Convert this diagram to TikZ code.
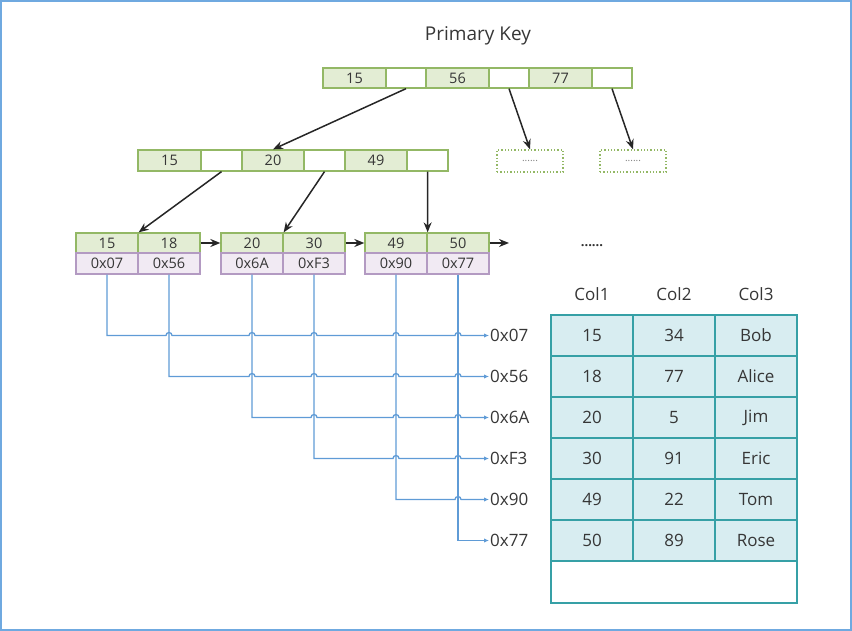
\documentclass[tikz,border=0pt]{standalone}
\usepackage{fontspec}
\setmainfont{Open Sans}
\usetikzlibrary{arrows.meta,calc}
\definecolor{gbord}{HTML}{93B865}
\definecolor{gfill}{HTML}{E3EDD4}
\definecolor{pbord}{HTML}{B39AC2}
\definecolor{pfill}{HTML}{F1EAF3}
\definecolor{txt}{HTML}{363636}
\definecolor{bl}{HTML}{5F9BD6}
\definecolor{tbord}{HTML}{36A0A6}
\definecolor{tfill}{HTML}{D8EDF1}
\definecolor{frm}{HTML}{6FA9E0}
\newcommand\hop[2]{-- ($(#1.south |- #2.west)+(-3,0)$) arc[start angle=180,end angle=360,radius=3]}
\begin{document}
\begin{tikzpicture}[x=1pt,y=-1pt,
  kc/.style={draw=gbord, fill=gfill, line width=1.3pt, inner sep=0pt, minimum height=20pt, text=txt, font=\fontsize{14.5}{14.5}\selectfont},
  pc/.style={kc, fill=white},
  lc/.style={kc, draw=pbord, fill=pfill, minimum height=21pt},
  dc/.style={draw=gbord, dotted, line width=1.3pt, inner sep=0pt, minimum width=66pt, minimum height=22pt, text=gray, font=\fontsize{10}{10}\selectfont},
  tree/.style={draw=black!85, line width=1.5pt, -{Stealth[length=10pt,width=8pt]}},
  blu/.style={draw=bl, line width=1.3pt, -{Latex[length=5pt,width=4.5pt]}},
  ad/.style={anchor=west, inner sep=1pt, text=txt, font=\fontsize{17}{17}\selectfont},
  tc/.style={draw=tbord, fill=tfill, line width=2pt, minimum width=82pt, minimum height=41pt, inner sep=0pt, text=txt, font=\fontsize{17}{17}\selectfont},
  hd/.style={text=txt, font=\fontsize{17}{17}\selectfont},
  frame/.style={draw=frm, line width=2pt}]
\useasboundingbox (0,0) rectangle (852,631);
\draw[frame] (1,1) rectangle (851,630);

% title
\node[text=txt, font=\fontsize{19}{19}\selectfont] (pk) at (478,36) {Primary Key};

% root
\node[kc, minimum width=63pt] (r1) at (354.5,78) {15};
\node[pc, minimum width=40pt] (r2) at (406,78) {};
\node[kc, minimum width=63pt] (r3) at (457.5,78) {56};
\node[pc, minimum width=40pt] (r4) at (509,78) {};
\node[kc, minimum width=63pt] (r5) at (560.5,78) {77};
\node[pc, minimum width=40pt] (r6) at (612,78) {};

% level 2
\node[kc, minimum width=63pt, minimum height=21pt] (m1) at (169.5,160.5) {15};
\node[pc, minimum width=41pt, minimum height=21pt] (m2) at (221.5,160.5) {};
\node[kc, minimum width=62pt, minimum height=21pt] (m3) at (273,160.5) {20};
\node[pc, minimum width=41pt, minimum height=21pt] (m4) at (324.5,160.5) {};
\node[kc, minimum width=62pt, minimum height=21pt] (m5) at (376,160.5) {49};
\node[pc, minimum width=41pt, minimum height=21pt] (m6) at (427.5,160.5) {};

\node[dc] (d1) at (530,161) {......};
\node[dc] (d2) at (633,161) {......};

% leaves
\node[kc, minimum width=62pt] (l1a) at (107,243) {15};
\node[kc, minimum width=62pt] (l1b) at (169,243) {18};
\node[kc, minimum width=62pt] (l2a) at (252,243) {20};
\node[kc, minimum width=62pt] (l2b) at (314,243) {30};
\node[kc, minimum width=62pt] (l3a) at (396,243) {49};
\node[kc, minimum width=62pt] (l3b) at (458,243) {50};
\node[lc, minimum width=62pt] (b1) at (107,263.5) {0x07};
\node[lc, minimum width=62pt] (b2) at (169,263.5) {0x56};
\node[lc, minimum width=62pt] (b3) at (252,263.5) {0x6A};
\node[lc, minimum width=62pt] (b4) at (314,263.5) {0xF3};
\node[lc, minimum width=62pt] (b5) at (396,263.5) {0x90};
\node[lc, minimum width=62pt] (b6) at (458,263.5) {0x77};
\coordinate (lend) at (509,243);

% tree connectors
\draw[tree] (r2.south) -- (m3.north);
\draw[tree] (r4.south) -- (d1.north);
\draw[tree] (r6.south) -- (d2.north);
\draw[tree] (m2.south) -- (l1a.north east);
\draw[tree] (m4.south) -- (l2a.north east);
\draw[tree] (m6.south) -- (l3a.north east);
\draw[tree] (l1b.east) -- (l2a.west);
\draw[tree] (l2b.east) -- (l3a.west);
\draw[tree] (l3b.east) -- (lend);

% address labels
\node[ad] (a1) at (489,335.5) {0x07};
\node[ad] (a2) at (489,376.5) {0x56};
\node[ad] (a3) at (489,417.5) {0x6A};
\node[ad] (a4) at (489,458.5) {0xF3};
\node[ad] (a5) at (489,499.5) {0x90};
\node[ad] (a6) at (489,540.5) {0x77};

% blue pointer lines
\draw[blu] (b1.south) -- (b1.south |- a1.west) \hop{b2}{a1} \hop{b3}{a1} \hop{b4}{a1} \hop{b5}{a1} \hop{b6}{a1} -- (a1.west);
\draw[blu] (b2.south) -- (b2.south |- a2.west) \hop{b3}{a2} \hop{b4}{a2} \hop{b5}{a2} \hop{b6}{a2} -- (a2.west);
\draw[blu] (b3.south) -- (b3.south |- a3.west) \hop{b4}{a3} \hop{b5}{a3} \hop{b6}{a3} -- (a3.west);
\draw[blu] (b4.south) -- (b4.south |- a4.west) \hop{b5}{a4} \hop{b6}{a4} -- (a4.west);
\draw[blu] (b5.south) -- (b5.south |- a5.west) \hop{b6}{a5} -- (a5.west);
\draw[blu] (b6.south) -- (b6.south |- a6.west) -- (a6.west);

% table
\node[font=\bfseries\fontsize{13}{13}\selectfont, text=black!80] (dots) at (592,246) {......};
\node[hd] (h1) at (592,294) {Col1};
\node[hd] (h2) at (674,294) {Col2};
\node[hd] (h3) at (756,294) {Col3};

\node[tc] (t11) at (592,335.5) {15};
\node[tc] (t12) at (674,335.5) {34};
\node[tc] (t13) at (756,335.5) {Bob};
\node[tc] (t21) at (592,376.5) {18};
\node[tc] (t22) at (674,376.5) {77};
\node[tc] (t23) at (756,376.5) {Alice};
\node[tc] (t31) at (592,417.5) {20};
\node[tc] (t32) at (674,417.5) {5};
\node[tc] (t33) at (756,417.5) {Jim};
\node[tc] (t41) at (592,458.5) {30};
\node[tc] (t42) at (674,458.5) {91};
\node[tc] (t43) at (756,458.5) {Eric};
\node[tc] (t51) at (592,499.5) {49};
\node[tc] (t52) at (674,499.5) {22};
\node[tc] (t53) at (756,499.5) {Tom};
\node[tc] (t61) at (592,540.5) {50};
\node[tc] (t62) at (674,540.5) {89};
\node[tc] (t63) at (756,540.5) {Rose};
\node[tc, fill=white, minimum width=246pt, minimum height=42pt] (t7) at (674,582) {};
\end{tikzpicture}
\end{document}
